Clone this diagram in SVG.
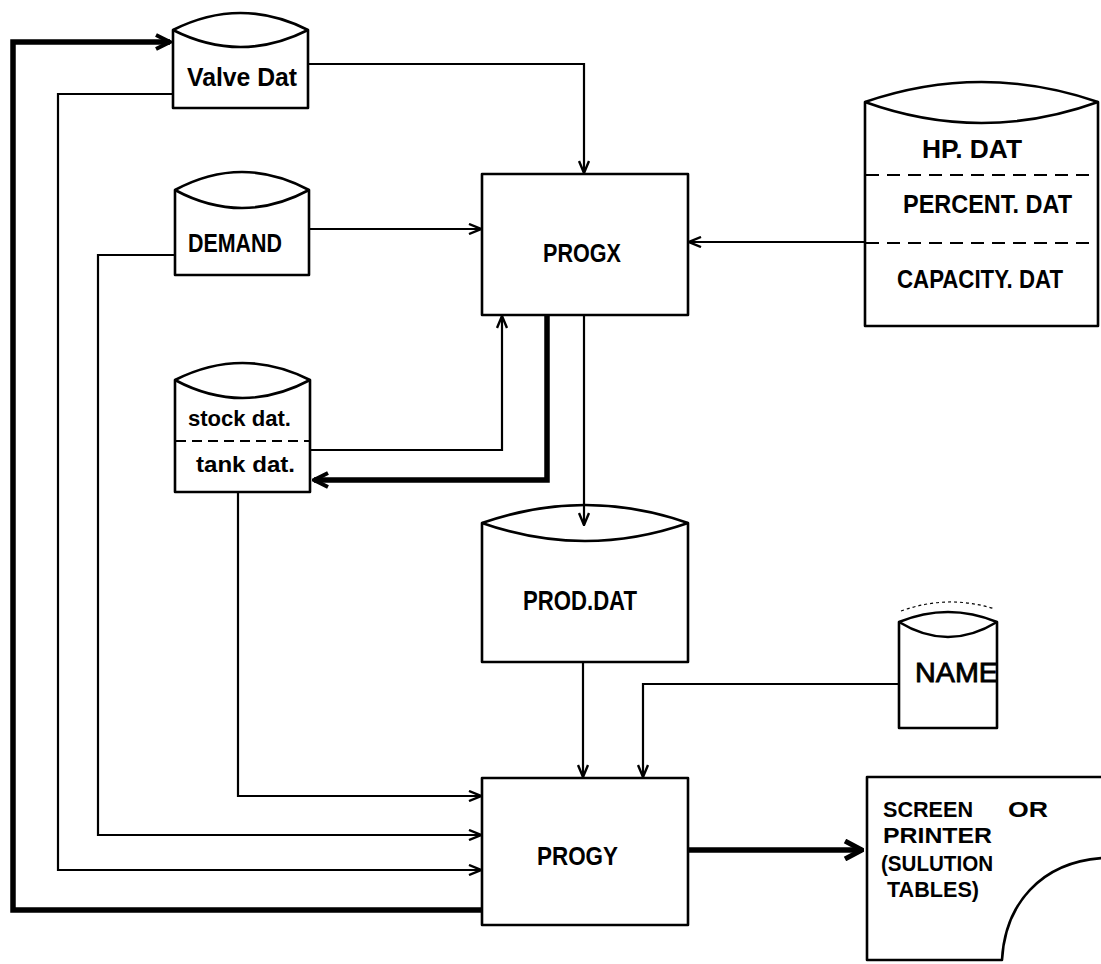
<svg xmlns="http://www.w3.org/2000/svg" width="1101" height="964" viewBox="0 0 1101 964">
<style>
.shape{fill:#fff;stroke:#000;stroke-width:2.6;stroke-linejoin:round}
.arc{fill:none;stroke:#000;stroke-width:2.6}
.dash{fill:none;stroke:#000;stroke-width:2.2;stroke-dasharray:13 8}
.t{font-family:"Liberation Sans",Arial,sans-serif;font-weight:bold;fill:#000}
.tn{font-family:"Liberation Sans",Arial,sans-serif;font-weight:normal;fill:#000}
.c{fill:none;stroke:#000;stroke-width:2.2;stroke-linejoin:miter}
.ck{fill:none;stroke:#000;stroke-width:5.5;stroke-linejoin:miter}
</style>
<defs>
<marker id="arr" viewBox="0 0 14 12" markerWidth="14" markerHeight="12" refX="13" refY="6" markerUnits="userSpaceOnUse" orient="auto">
<path d="M1,1 L13,6 L1,11" fill="none" stroke="#000" stroke-width="2.4"/>
</marker>
<marker id="arrK" viewBox="0 0 18 18" markerWidth="18" markerHeight="18" refX="16" refY="9" markerUnits="userSpaceOnUse" orient="auto">
<path d="M2,2 L16,9 L2,16" fill="none" stroke="#000" stroke-width="4"/>
</marker>
<marker id="arrB" viewBox="0 0 22 22" markerWidth="22" markerHeight="22" refX="20" refY="11" markerUnits="userSpaceOnUse" orient="auto">
<path d="M3,2 L20,11 L3,20" fill="none" stroke="#000" stroke-width="5"/>
</marker>
</defs>
<rect width="1101" height="964" fill="#fff"/>

<g id="valve">
<path class="shape" d="M173,30 Q240.5,-4 308,30 L308,108 L173,108 Z"/>
<path class="arc" d="M173,30 Q240.5,64 308,30"/>
<text class="t" x="187" y="86" font-size="25" textLength="110" lengthAdjust="spacingAndGlyphs">Valve Dat</text>
</g>

<g id="demand">
<path class="shape" d="M175,190 Q242,154 309,190 L309,275 L175,275 Z"/>
<path class="arc" d="M175,190 Q242,226 309,190"/>
<text class="t" x="188" y="252" font-size="25" textLength="94" lengthAdjust="spacingAndGlyphs">DEMAND</text>
</g>

<g id="stocktank">
<path class="shape" d="M175,380 Q242.5,346 310,380 L310,492 L175,492 Z"/>
<path class="arc" d="M175,380 Q242.5,416 310,380"/>
<line class="dash" x1="176" y1="441" x2="309" y2="441" style="stroke-dasharray:10 6"/>
<text class="t" x="188" y="426" font-size="22" textLength="103" lengthAdjust="spacingAndGlyphs">stock dat.</text>
<text class="t" x="196" y="472" font-size="22" textLength="99" lengthAdjust="spacingAndGlyphs">tank dat.</text>
</g>

<g id="progx">
<rect class="shape" x="482" y="174" width="206" height="141"/>
<text class="t" x="543" y="262" font-size="26" textLength="78" lengthAdjust="spacingAndGlyphs">PROGX</text>
</g>

<g id="hpdat">
<path class="shape" d="M865,102 Q981.5,62 1098,102 L1098,326 L865,326 Z"/>
<path class="arc" d="M865,102 Q981.5,144 1098,102"/>
<line class="dash" x1="866" y1="175" x2="1097" y2="175"/>
<line class="dash" x1="866" y1="243" x2="1097" y2="243"/>
<text class="t" x="922" y="158" font-size="25" textLength="100" lengthAdjust="spacingAndGlyphs">HP.  DAT</text>
<text class="t" x="903" y="213" font-size="25" textLength="169" lengthAdjust="spacingAndGlyphs">PERCENT. DAT</text>
<text class="t" x="897" y="288" font-size="25" textLength="166" lengthAdjust="spacingAndGlyphs">CAPACITY.  DAT</text>
</g>

<g id="proddat">
<path class="shape" d="M482,523 Q585,487 688,523 L688,662 L482,662 Z"/>
<path class="arc" d="M482,523 Q585,559 688,523"/>
<text class="t" x="523" y="610" font-size="28" textLength="114" lengthAdjust="spacingAndGlyphs">PROD.DAT</text>
</g>

<g id="name">
<path d="M901,611 Q948,594 995,609" fill="none" stroke="#000" stroke-width="1.2" stroke-dasharray="3 3"/>
<path class="shape" d="M899,622 Q948,602 997,622 L997,728 L899,728 Z"/>
<path class="arc" d="M899,622 Q948,652 997,622"/>
<text class="tn" x="915" y="682" font-size="27" textLength="83" lengthAdjust="spacingAndGlyphs" style="stroke:#000;stroke-width:0.8">NAME</text>
</g>

<g id="progy">
<rect class="shape" x="482" y="778" width="206" height="147"/>
<text class="t" x="537" y="865" font-size="26" textLength="81" lengthAdjust="spacingAndGlyphs">PROGY</text>
</g>

<g id="screen">
<path class="shape" d="M1103,777 L867,777 L867,960 L1002,960 C1005,905 1040,862 1103,858"/>
<text class="t" x="883" y="817" font-size="22" textLength="90" lengthAdjust="spacingAndGlyphs">SCREEN</text>
<text class="t" x="1008" y="817" font-size="22" textLength="40" lengthAdjust="spacingAndGlyphs">OR</text>
<text class="t" x="883" y="843" font-size="22" textLength="109" lengthAdjust="spacingAndGlyphs">PRINTER</text>
<text class="t" x="881" y="871" font-size="22" textLength="112" lengthAdjust="spacingAndGlyphs">(SULUTION</text>
<text class="t" x="887" y="897" font-size="22" textLength="92" lengthAdjust="spacingAndGlyphs">TABLES)</text>
</g>

<g id="connectors">
<path class="c" d="M308,64 L584,64 L584,173" marker-end="url(#arr)"/>
<path class="c" d="M309,229 L481,229" marker-end="url(#arr)"/>
<path class="c" d="M865,242 L689,242" marker-end="url(#arr)"/>
<path class="c" d="M310,450 L502,450 L502,316" marker-end="url(#arr)"/>
<path class="ck" d="M547,316 L547,480 L314,480" marker-end="url(#arrK)"/>
<path class="c" d="M584,316 L584,525" marker-end="url(#arr)"/>
<path class="c" d="M583,663 L583,777" marker-end="url(#arr)"/>
<path class="c" d="M898,684 L643,684 L643,777" marker-end="url(#arr)"/>
<path class="c" d="M238,493 L238,796 L481,796" marker-end="url(#arr)"/>
<path class="c" d="M174,255 L98,255 L98,835 L481,835" marker-end="url(#arr)"/>
<path class="c" d="M172,94 L58,94 L58,870 L481,870" marker-end="url(#arr)"/>
<path class="ck" d="M481,910 L13,910 L13,42 L170,42" marker-end="url(#arrK)"/>
<path class="ck" d="M689,850 L862,850" marker-end="url(#arrB)"/>
</g>
</svg>
